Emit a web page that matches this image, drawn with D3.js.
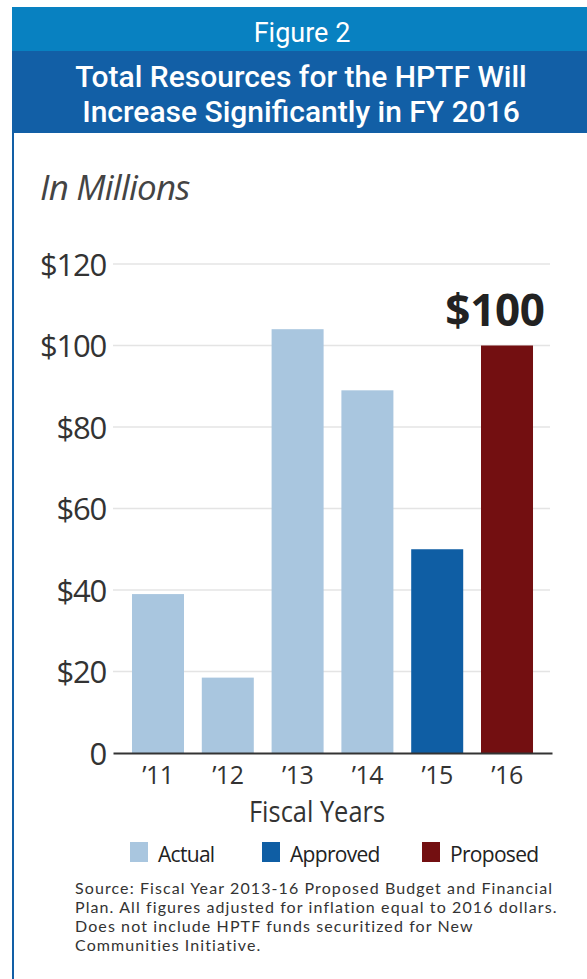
<!DOCTYPE html>
<html><head><meta charset="utf-8">
<script src="https://cdn.jsdelivr.net/npm/d3@7"></script>
<style>
html,body{margin:0;padding:0;background:#fff;}
svg{display:block;}
</style></head>
<body>
<svg id="c" width="587" height="979"></svg>
<script>
const years = ["\u201911","\u201912","\u201913","\u201914","\u201915","\u201916"];
const values = [39, 18.5, 104, 89, 50, 100];
const types = ["Actual","Actual","Actual","Actual","Approved","Proposed"];
const legendItems = ["Actual","Approved","Proposed"];
const legendColors = ["#a9c6df","#0f5ea4","#730f11"];
const yTicks = [0,20,40,60,80,100,120];
const yTickLabels = ["0","$20","$40","$60","$80","$100","$120"];
const sourceLines = [
  "Source: Fiscal Year 2013-16 Proposed Budget and Financial",
  "Plan. All figures adjusted for inflation equal to 2016 dollars.",
  "Does not include HPTF funds securitized for New",
  "Communities Initiative."
];

const svg = d3.select("#c");
const W = 587, H = 979;
const color = d3.scaleOrdinal().domain(legendItems).range(legendColors);

// Header
svg.append("rect").attr("x",12).attr("y",7).attr("width",W-12).attr("height",44).attr("fill","#0881c1");
svg.append("rect").attr("x",12).attr("y",51).attr("width",W-12).attr("height",82).attr("fill","#125fa6");
svg.append("rect").attr("x",12).attr("y",133).attr("width",2).attr("height",H-133).attr("fill","#125fa6");
svg.append("text").attr("x",302).attr("y",42).attr("text-anchor","middle")
  .attr("font-family","Roboto").attr("font-size",27).attr("fill","#fff").text("Figure 2");
svg.append("text").attr("x",301).attr("y",87).attr("text-anchor","middle")
  .attr("font-family","Roboto").attr("font-weight",500).attr("font-size",30).attr("fill","#fff")
  .text("Total Resources for the HPTF Will");
svg.append("text").attr("x",301).attr("y",122).attr("text-anchor","middle")
  .attr("font-family","Roboto").attr("font-weight",500).attr("font-size",30).attr("fill","#fff")
  .text("Increase Significantly in FY 2016");

// In Millions
svg.append("text").attr("x",40).attr("y",200).attr("font-family","Open Sans").attr("font-style","italic")
  .attr("font-size",35).attr("fill","#444").attr("letter-spacing",-0.8).text("In Millions");

// Scales
const x = d3.scaleBand().domain(years).range([113,552]).paddingInner(0.255).paddingOuter(0.272);
const y = d3.scaleLinear().domain([0,120]).range([753,264]);

// y axis labels
const yAxis = d3.axisLeft(y).tickValues(yTicks).tickSize(0)
  .tickFormat((d,i)=>yTickLabels[i]);
const gy = svg.append("g").attr("transform","translate(106,0)").call(yAxis);
gy.select(".domain").remove();
gy.selectAll("text").attr("font-family","Open Sans").attr("font-size",31).attr("fill","#333")
  .attr("x",0).attr("dy","0.36em").attr("letter-spacing",-1.2);

// grid
svg.append("g").selectAll("line").data(yTicks.filter(d=>d>0)).join("line")
  .attr("x1",113).attr("x2",550).attr("y1",d=>y(d)).attr("y2",d=>y(d))
  .attr("stroke","#e4e4e4").attr("stroke-width",1.5);

// bars
svg.append("g").selectAll("rect").data(values).join("rect")
  .attr("x",(d,i)=>x(years[i])).attr("width",x.bandwidth())
  .attr("y",d=>y(d)).attr("height",d=>y(0)-y(d))
  .attr("fill",(d,i)=>color(types[i]));

// baseline + x axis
const xAxis = d3.axisBottom(x).tickSize(0).tickPadding(13);
const gx = svg.append("g").attr("transform",`translate(0,${y(0)})`).call(xAxis);
gx.select(".domain").attr("stroke","#333").attr("stroke-width",2);
gx.selectAll("text").attr("font-family","Open Sans").attr("font-size",25).attr("fill","#333")
  .attr("letter-spacing",-0.5);

svg.append("text").attr("x",317).attr("y",822).attr("text-anchor","middle")
  .attr("font-family","Open Sans").attr("font-size",29).attr("fill","#333")
  .attr("textLength",136).attr("lengthAdjust","spacingAndGlyphs")
  .text("Fiscal Years");

// $100 annotation
svg.append("text").attr("x",x(years[5])+x.bandwidth()/2-12).attr("y",y(values[5])-20)
  .attr("text-anchor","middle").attr("font-family","Open Sans").attr("font-weight",700)
  .attr("font-size",44).attr("fill","#222").attr("letter-spacing",-0.3).text("$"+values[5]);

// legend
const legX = [130,262,422];
const lg = svg.append("g").selectAll("g").data(legendItems).join("g")
  .attr("transform",(d,i)=>`translate(${legX[i]},842)`);
lg.append("rect").attr("width",18).attr("height",20).attr("fill",d=>color(d));
lg.append("text").attr("x",28).attr("y",20).attr("font-family","Open Sans").attr("font-size",21)
  .attr("fill","#222").attr("letter-spacing",-0.7).text(d=>d);

// source
svg.append("g").selectAll("text").data(sourceLines).join("text")
  .attr("x",75).attr("y",(d,i)=>894+i*19).attr("font-family","Lato").attr("font-size",16)
  .attr("fill","#333").attr("letter-spacing",1.1).text(d=>d);
</script>
</body></html>
